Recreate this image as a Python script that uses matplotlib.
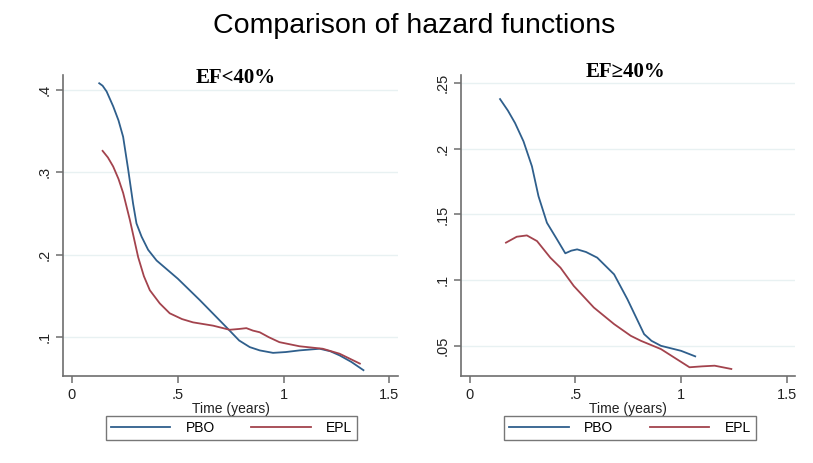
import numpy as np
import matplotlib
matplotlib.use("Agg")
import matplotlib.pyplot as plt
from matplotlib.ticker import FuncFormatter

# EF<40% panel
t_pbo_lo = [0.129, 0.145, 0.164, 0.195, 0.22, 0.242, 0.266, 0.289, 0.305, 0.329, 0.36, 0.40, 0.45, 0.50, 0.604, 0.73, 0.79, 0.84, 0.887, 0.95, 1.01, 1.075, 1.17, 1.22, 1.264, 1.32, 1.377]
h_pbo_lo = [0.408, 0.405, 0.398, 0.380, 0.363, 0.343, 0.303, 0.262, 0.238, 0.222, 0.206, 0.193, 0.182, 0.171, 0.145, 0.112, 0.096, 0.088, 0.084, 0.081, 0.082, 0.084, 0.086, 0.083, 0.078, 0.070, 0.060]
t_epl_lo = [0.145, 0.17, 0.195, 0.22, 0.242, 0.274, 0.313, 0.34, 0.368, 0.415, 0.462, 0.52, 0.572, 0.667, 0.745, 0.79, 0.824, 0.855, 0.887, 0.93, 0.98, 1.075, 1.185, 1.264, 1.36]
h_epl_lo = [0.326, 0.318, 0.307, 0.292, 0.275, 0.242, 0.197, 0.174, 0.157, 0.141, 0.129, 0.122, 0.118, 0.114, 0.109, 0.110, 0.111, 0.108, 0.106, 0.100, 0.094, 0.089, 0.086, 0.080, 0.068]

# EF>=40% panel
t_pbo_hi = [0.143, 0.18, 0.214, 0.254, 0.294, 0.325, 0.365, 0.413, 0.452, 0.48, 0.508, 0.55, 0.603, 0.683, 0.746, 0.825, 0.86, 0.905, 1.0, 1.067]
h_pbo_hi = [0.2377, 0.229, 0.2195, 0.2056, 0.1866, 0.1639, 0.1437, 0.131, 0.1205, 0.1225, 0.1235, 0.1215, 0.1172, 0.1045, 0.0856, 0.0591, 0.054, 0.0502, 0.0464, 0.0422]
t_epl_hi = [0.171, 0.222, 0.27, 0.318, 0.381, 0.429, 0.492, 0.587, 0.683, 0.762, 0.81, 0.905, 1.04, 1.10, 1.159, 1.238]
h_epl_hi = [0.1286, 0.1331, 0.1341, 0.1298, 0.1172, 0.1096, 0.0957, 0.0793, 0.0667, 0.0578, 0.054, 0.0477, 0.0339, 0.0346, 0.0351, 0.0326]

x_ticks = [0, 0.5, 1, 1.5]
y_ticks_lo = [0.1, 0.2, 0.3, 0.4]
y_ticks_hi = [0.05, 0.1, 0.15, 0.2, 0.25]

blue = '#2f5f8c'
red = '#a3434d'
axis_gray = '#6e6e6e'
grid_col = '#e8f1f2'

plt.rcParams['font.family'] = ['Liberation Sans', 'DejaVu Sans']


def strip_zero(v, pos):
    s = ('%g' % v)
    if s.startswith('0.'):
        s = s[1:]
    return s


def style(ax, yticks, ylim):
    ax.set_xlim(-0.042, 1.54)
    ax.set_ylim(*ylim)
    ax.set_xticks(x_ticks)
    ax.set_yticks(yticks)
    ax.xaxis.set_major_formatter(FuncFormatter(strip_zero))
    ax.yaxis.set_major_formatter(FuncFormatter(strip_zero))
    for side in ['top', 'right']:
        ax.spines[side].set_visible(False)
    for side in ['left', 'bottom']:
        ax.spines[side].set_color(axis_gray)
        ax.spines[side].set_linewidth(1.2)
    ax.tick_params(colors=axis_gray, labelcolor='#222222', labelsize=10.5, length=5, width=1.1)
    for lab in ax.get_yticklabels():
        lab.set_rotation(90)
        lab.set_va('center')
    ax.grid(axis='y', color=grid_col, linewidth=1.0)
    ax.set_axisbelow(True)
    ax.set_xlabel('Time (years)', fontsize=10, labelpad=0, color='#222222')


fig = plt.figure(figsize=(8.13, 4.63), dpi=100)
ax1 = fig.add_axes([0.0775, 0.188, 0.412, 0.650])
ax2 = fig.add_axes([0.567, 0.188, 0.411, 0.650])

l1, = ax1.plot(t_pbo_lo, h_pbo_lo, color=blue, lw=1.3)
l2, = ax1.plot(t_epl_lo, h_epl_lo, color=red, lw=1.3)
style(ax1, y_ticks_lo, (0.053, 0.418))

ax2.plot(t_pbo_hi, h_pbo_hi, color=blue, lw=1.3)
ax2.plot(t_epl_hi, h_epl_hi, color=red, lw=1.3)
style(ax2, y_ticks_hi, (0.0273, 0.256))

fig.text(414 / 813, 1 - 26 / 463, 'Comparison of hazard functions', ha='center', va='center', fontsize=20.5)
fig.text(236 / 813, 1 - 78 / 463, 'EF<40%', ha='center', va='center', fontsize=15,
         fontweight='bold', family='Liberation Serif')
fig.text(625 / 813, 1 - 72 / 463, 'EF\u226540%', ha='center', va='center', fontsize=15,
         fontweight='bold', family='Liberation Serif')

for cx in [231.5 / 813, 630 / 813]:
    leg = fig.legend([l1, l2], ['PBO', 'EPL'], loc='center', bbox_to_anchor=(cx, 1 - 428 / 463),
                     ncol=2, fontsize=10, frameon=True, fancybox=False, handlelength=4.3,
                     handletextpad=1.1, columnspacing=2.6, borderpad=0.35)
    leg.get_frame().set_edgecolor('#555555')
    leg.get_frame().set_linewidth(1.0)

fig.savefig('out.png', dpi=100)
